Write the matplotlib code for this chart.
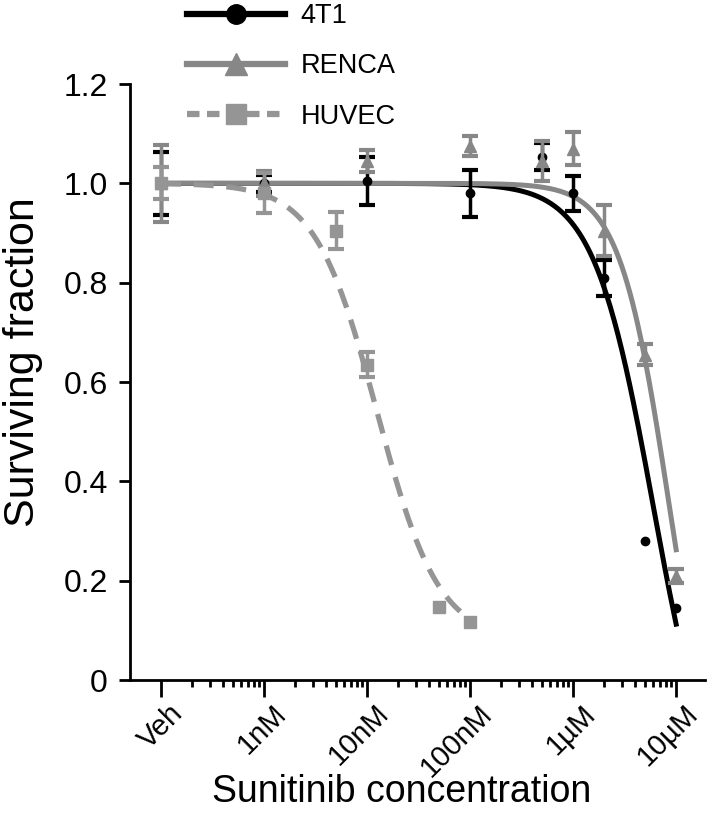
import matplotlib
matplotlib.use('Agg')
import matplotlib.pyplot as plt
import matplotlib.transforms as mtransforms
from matplotlib.lines import Line2D
from matplotlib.ticker import FixedLocator, NullFormatter
import numpy as np

plt.rcParams['font.family'] = ['Liberation Sans', 'DejaVu Sans']

# concentrations in nM (Veh plotted at 0.1 nM)
conc_cells = [0.1, 1, 10, 100, 500, 1000, 2000, 5000, 10000]
conc_huvec = [0.1, 1, 5, 10, 50, 100]

# nan = error bar too small to see
mean_4t1 = [1.0, 1.0, 1.005, 0.98, 1.054, 0.98, 0.81, 0.28, 0.145]
err_4t1 = [0.063, 0.017, 0.048, 0.047, 0.027, 0.035, 0.036, np.nan, np.nan]

mean_renca = [1.0, 1.0, 1.045, 1.075, 1.045, 1.07, 0.905, 0.655, 0.21]
err_renca = [0.078, 0.025, 0.022, 0.02, 0.04, 0.033, 0.052, 0.021, 0.014]

mean_huvec = [1.0, 0.98, 0.905, 0.635, 0.147, 0.117]
err_huvec = [0.032, 0.04, 0.038, 0.025, np.nan, np.nan]

# dose-response fit parameters (top, bottom, IC50 in nM, Hill slope)
fit_4t1 = (1.0, -0.3, 6000, 1.5)
fit_renca = (1.0, -0.3, 8600, 1.8)
fit_huvec = (1.0, 0.08, 12.5, 1.45)

tick_pos = [0.1, 1, 10, 100, 1000, 10000]
tick_lab = ['Veh', '1nM', '10nM', '100nM', '1\u00b5M', '10\u00b5M']
y_ticks = [0, 0.2, 0.4, 0.6, 0.8, 1.0, 1.2]
y_lab = ['0', '0.2', '0.4', '0.6', '0.8', '1.0', '1.2']

black = '#000000'
gray = '#878787'
gray2 = '#959595'


def hill(x, params):
    top, bottom, ic50, h = params
    return bottom + (top - bottom) / (1 + (x / ic50) ** h)


fig = plt.figure(figsize=(7.08, 8.24), dpi=100)
ax = fig.add_axes([130 / 708, 1 - 680 / 824, 575 / 708, (680 - 84) / 824])

eb = dict(linestyle='none', capsize=6, capthick=3, elinewidth=2.5)

# fitted curves
xs = np.logspace(-1, 4, 400)
ax.plot(xs, hill(xs, fit_4t1), color=black, lw=3.6, zorder=2)
ax.plot(xs, hill(xs, fit_renca), color=gray, lw=3.6, zorder=3)
xh = np.logspace(-1, 2, 300)
ax.plot(xh, hill(xh, fit_huvec), color=gray2, lw=3.8, dashes=(3.8, 2.4), zorder=3)

# data points
ax.errorbar(conc_cells, mean_4t1, yerr=err_4t1, color=black, marker='o', ms=6, zorder=4, **eb)
ax.errorbar(conc_cells, mean_renca, yerr=err_renca, color=gray, marker='^', ms=8, zorder=5, **eb)
ax.errorbar(conc_huvec, mean_huvec, yerr=err_huvec, color=gray2, marker='s', ms=9, zorder=5, **eb)

ax.set_xscale('log')
ax.set_xlim(10 ** -1.30, 10 ** 4.28)
ax.set_ylim(0, 1.2)

ax.spines['top'].set_visible(False)
ax.spines['right'].set_visible(False)
ax.spines['left'].set_linewidth(2)
ax.spines['bottom'].set_linewidth(2)
ax.tick_params(axis='both', which='major', direction='out', width=2, length=8, pad=8)
ax.tick_params(axis='x', which='major', length=12, pad=2)
ax.tick_params(axis='x', which='minor', direction='out', width=2, length=5)

ax.xaxis.set_major_locator(FixedLocator(tick_pos))
ax.set_xticklabels(tick_lab, rotation=45, ha='right', va='top', rotation_mode='anchor', fontsize=21)
# nudge rotated labels to the right like the original (after tick_params, which resets transforms)
shift = mtransforms.ScaledTranslation(0.08, 0.0, fig.dpi_scale_trans)
for lab in ax.get_xticklabels():
    lab.set_transform(lab.get_transform() + shift)
minor = [m * d for d in [0.1, 1, 10, 100, 1000] for m in range(2, 10)]
ax.xaxis.set_minor_locator(FixedLocator(minor))
ax.xaxis.set_minor_formatter(NullFormatter())

ax.set_yticks(y_ticks)
ax.set_yticklabels(y_lab, fontsize=23)

ax.set_xlabel('Sunitinib concentration', fontsize=27)
ax.xaxis.set_label_coords(0.473, -0.158)
ax.set_ylabel('Surviving fraction', fontsize=31)
ax.yaxis.set_label_coords(-0.152, 0.534)

handles = [
    Line2D([], [], color=black, lw=4.5, marker='o', ms=14),
    Line2D([], [], color=gray, lw=4.5, marker='^', ms=16),
    Line2D([], [], color=gray2, lw=4.5, marker='s', ms=14, dashes=(2, 1.2)),
]
fig.legend(handles, ['4T1', 'RENCA', 'HUVEC'], loc='upper left',
           bbox_to_anchor=(187 / 708, 1 - 3 / 824), frameon=False, fontsize=19.5,
           handlelength=3.6, handletextpad=0.6, labelspacing=0.9,
           borderpad=0, borderaxespad=0)

fig.savefig('out.png', dpi=100)
